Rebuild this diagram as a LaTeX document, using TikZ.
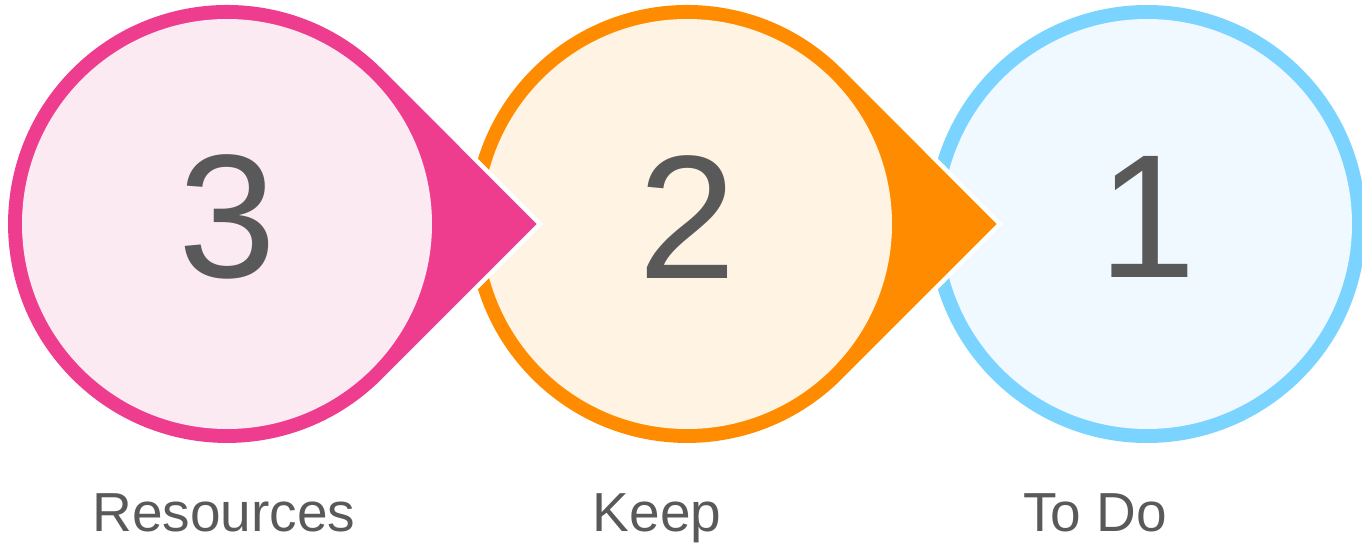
\documentclass[tikz,border=0pt]{standalone}
\usepackage{fontspec}
\setmainfont{Liberation Sans}
\usepackage{xcolor}
\usepackage{tikz}
\usetikzlibrary{positioning}

\definecolor{pinkring}{RGB}{238,61,142}
\definecolor{pinkface}{RGB}{252,234,242}
\definecolor{orangering}{RGB}{255,140,0}
\definecolor{orangeface}{RGB}{255,243,228}
\definecolor{bluering}{RGB}{122,212,255}
\definecolor{blueface}{RGB}{240,249,255}
\definecolor{textgray}{RGB}{89,89,89}

\begin{document}
\begin{tikzpicture}[
  x=0.5pt, y=0.5pt,
  halo/.style={draw=white, line width=4.5pt, line join=miter},
  digit/.style={font=\fontsize{88}{88}\selectfont, text=textgray, inner sep=0pt},
  caption/.style={font=\fontsize{27.5}{30}\selectfont, text=textgray,
                  inner sep=0pt, anchor=base},
]
  \useasboundingbox (0,0) rectangle (1362,543);

  % Last circle, no point
  \fill[bluering] (1147,319) circle[radius=219];
  \fill[blueface] (1147,319) circle[radius=205];
  \node[digit] at (1147,326) (digit1) {1};
  \node[caption] at (1095,12) (label1) {To Do};

  % Drops, right to left so each point lies over the next circle
  \foreach \cx/\ring/\face/\num/\lx/\txt in {
      687/orangering/orangeface/2/657/Keep,
      227/pinkring/pinkface/3/224/Resources} {
    \path[halo] (\cx+309.7,319) -- (\cx+154.9,473.9)
      arc[start angle=45, end angle=315, radius=219] -- cycle;
    \fill[\ring] (\cx+309.7,319) -- (\cx+154.9,473.9)
      arc[start angle=45, end angle=315, radius=219] -- cycle;
    \fill[\face] (\cx,319) circle[radius=205];
    \node[digit] at (\cx,326) (digit\num) {\num};
    \node[caption] at (\lx,12) (label\num) {\txt};
  }
\end{tikzpicture}
\end{document}
